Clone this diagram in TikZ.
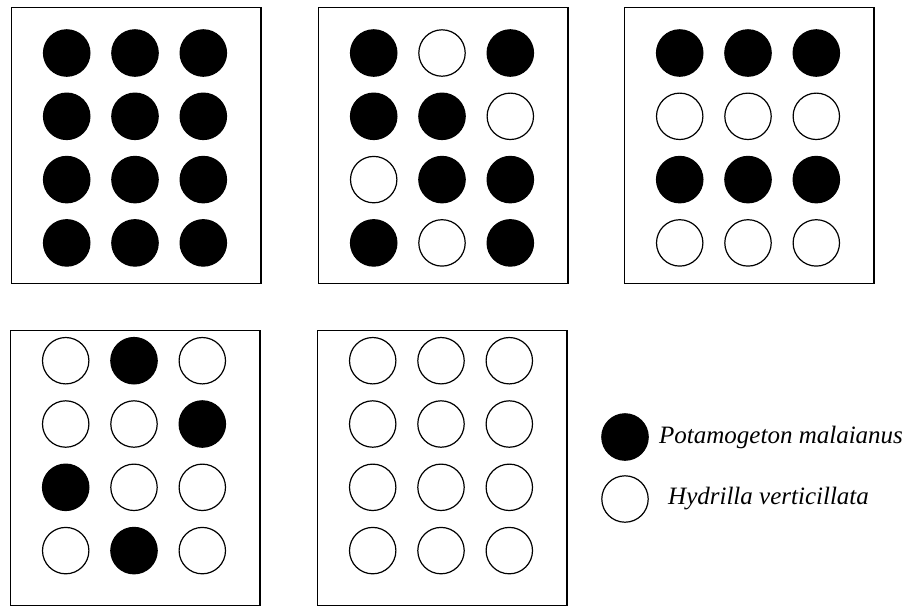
\documentclass[tikz,border=0pt]{standalone}
\usepackage{fontspec}
\setmainfont{Liberation Serif}
\usetikzlibrary{positioning}

\begin{document}
\begin{tikzpicture}[
  x=0.5pt, y=-0.5pt,
  panel/.style={draw, line width=0.6pt, anchor=north west, minimum width=124.7pt,
                minimum height=#1, inner sep=0pt},
  plant/.style={circle, draw, line width=0.6pt, minimum size=23.2pt, inner sep=0pt},
  pm/.style={plant, fill=black},
  hv/.style={plant, fill=white},
  legend/.style={inner sep=0pt, font=\fontsize{12.5}{15}\selectfont\itshape}
]
  \useasboundingbox (0,0) rectangle (913,607);

  \foreach \p/\x/\y/\h/\dy/\pat in {
      a/11/7/138pt/46/{pm,pm,pm,pm,pm,pm,pm,pm,pm,pm,pm,pm},
      b/318/7/138pt/46/{pm,hv,pm,pm,pm,hv,hv,pm,pm,pm,hv,pm},
      c/624/7/138pt/46/{pm,pm,pm,hv,hv,hv,pm,pm,pm,hv,hv,hv},
      d/10/330/137.5pt/30.7/{hv,pm,hv,hv,hv,pm,pm,hv,hv,hv,pm,hv},
      e/317/330/137.5pt/30.7/{hv,hv,hv,hv,hv,hv,hv,hv,hv,hv,hv,hv}} {
    \node[panel=\h] (\p) at (\x,\y) {};
    \foreach \f [count=\i from 0] in \pat {
      \pgfmathtruncatemacro\c{mod(\i,3)}
      \pgfmathtruncatemacro\r{div(\i,3)}
      \node[\f] (\p\i) at (\x+55.7+68.3*\c, \y+\dy+63.3*\r) {};
    }
  }

  \node[pm] (lp) at (625,437) {};
  \node[hv] (lh) at (625,499) {};
  \node[legend, right=5pt of lp] (tp) {Potamogeton malaianus};
  \node[legend, right=9.5pt of lh] (th) {Hydrilla verticillata};
\end{tikzpicture}
\end{document}
